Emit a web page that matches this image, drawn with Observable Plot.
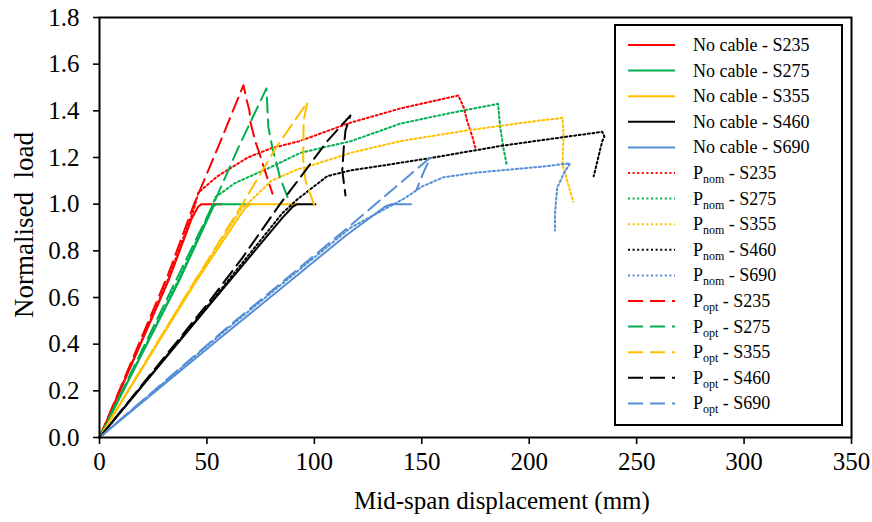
<!DOCTYPE html>
<html><head><meta charset="utf-8">
<script src="https://cdn.jsdelivr.net/npm/d3@7"></script>
<script src="https://cdn.jsdelivr.net/npm/@observablehq/plot@0.6"></script>
<style>
body{margin:0;background:#fff}
#chart{width:872px;height:522px}
#chart svg, #chart svg text{font-family:"Liberation Serif", "Times New Roman", serif !important;}
</style>
</head><body><div id="chart"></div>
<script>
// ---- data (displacement mm, normalised load) ----
const noCableS235 = [[0,0],[32,0.67],[43,0.94],[46,0.99],[47.5,1.0],[57,1.0]];
const noCableS275 = [[0,0],[37,0.67],[51,0.95],[53,0.99],[54.5,1.0],[70,1.0]];
const noCableS355 = [[0,0],[45,0.67],[66,0.96],[68.5,0.99],[70.5,1.0],[93,1.0]];
const noCableS460 = [[0,0],[50,0.555],[85,0.94],[90,0.99],[92,1.0],[100.5,1.0]];
const noCableS690 = [[0,0],[60,0.455],[115,0.868],[133,0.99],[136,1.0],[145,1.0]];

const pnomS235 = [[0,0],[32,0.68],[44,0.98],[46,1.05],[55,1.12],[69,1.2],[80,1.24],[93,1.27],[117,1.35],[140,1.41],[167,1.466],[169.5,1.415],[171,1.36],[173.5,1.29],[175,1.24]];
const pnomS275 = [[0,0],[37,0.68],[51,0.96],[54,1.03],[63,1.09],[80,1.16],[93.5,1.22],[117,1.27],[140,1.345],[163,1.39],[185.5,1.43],[186.5,1.33],[188,1.24],[189.5,1.17]];
const pnomS355 = [[0,0],[45,0.68],[66,0.98],[71,1.02],[80,1.1],[91,1.145],[100,1.17],[117,1.22],[140,1.27],[171,1.316],[202,1.355],[215.5,1.37],[216,1.30],[215.5,1.17],[218,1.09],[220.5,1.01]];
const pnomS460 = [[0,0],[50,0.56],[85,0.96],[92,1.02],[99,1.07],[106,1.12],[117,1.145],[135,1.17],[155.5,1.2],[187,1.25],[218,1.29],[234,1.31],[235,1.29],[234,1.27],[230,1.12]];
const pnomS690 = [[0,0],[60,0.47],[117,0.9],[135,0.99],[142,1.025],[150,1.075],[160,1.115],[175,1.135],[187,1.145],[205,1.16],[219,1.175],[216,1.13],[213,1.07],[212,0.96],[212,0.887]];

const poptS235 = [[0,0],[32,0.70],[44,1.0],[55,1.24],[67,1.51],[68.4,1.45],[69.8,1.4],[70.3,1.35],[72.5,1.27],[74,1.23],[78,1.115],[80.5,1.045]];
const poptS275 = [[0,0],[37,0.70],[53,1.0],[65,1.25],[77.7,1.496],[78.2,1.40],[78.6,1.33],[80.5,1.24],[84,1.115],[87.5,1.03]];
const poptS355 = [[0,0],[45,0.68],[66.5,1.0],[82,1.24],[96.8,1.437],[95,1.36],[94.8,1.19],[95.9,1.10],[100,0.994]];
const poptS460 = [[0,0],[50,0.57],[66.5,0.77],[84,1.0],[93.5,1.115],[106,1.27],[116.8,1.38],[114.5,1.316],[113.7,1.244],[113,1.145],[114.5,1.037]];
const poptS690 = [[0,0],[60,0.475],[117,0.91],[154,1.2],[150.5,1.13],[147.5,1.06]];

const grades = ["S235","S275","S355","S460","S690"];
const gradeColors = ["#ff0000","#00b050","#ffc000","#000000","#558ed5"];
const caseNames = ["No cable","Pnom","Popt"];
const caseDash = [null,"2,2.6","15,7"];
const caseData = [
  [noCableS235,noCableS275,noCableS355,noCableS460,noCableS690],
  [pnomS235,pnomS275,pnomS355,pnomS460,pnomS690],
  [poptS235,poptS275,poptS355,poptS460,poptS690]
];
const xTicks = [0,50,100,150,200,250,300,350];
const yTicks = [0,0.2,0.4,0.6,0.8,1.0,1.2,1.4,1.6,1.8];

// ---- build series ----
const series = [];
caseNames.forEach((c,ci)=>grades.forEach((g,gi)=>{
  series.push({caseName:c, grade:g, color:gradeColors[gi], dash:caseDash[ci],
    rows: caseData[ci][gi].map(([x,y])=>({x,y}))});
}));

const lineMarks = series.map(s=>Plot.line(s.rows,{x:"x",y:"y",stroke:s.color,strokeWidth:2,
  strokeDasharray:s.dash ?? undefined, strokeLinejoin:"round"}));

const font = '"Liberation Serif", "Times New Roman", serif';
const svgEl = Plot.plot({
  width:872, height:522,
  marginLeft:99, marginRight:21, marginTop:17, marginBottom:85,
  style:{fontFamily:font, fontSize:"25px", color:"black", background:"white", overflow:"visible"},
  x:{domain:[0,350]},
  y:{domain:[0,1.8]},
  marks:[
    ...lineMarks,
    Plot.frame({stroke:"black", strokeWidth:2}),
    Plot.axisX({ticks:xTicks, tickSize:7, tickPadding:8, strokeWidth:1.6, label:null, fontSize:25}),
    Plot.axisY({ticks:yTicks, tickSize:6, tickPadding:14, strokeWidth:1.6, label:null, fontSize:25, tickFormat:d3.format(".1f")})
  ]
});
document.getElementById("chart").appendChild(svgEl);

const svg = d3.select(svgEl);
svg.append("text").attr("x",502).attr("y",509).attr("text-anchor","middle")
  .style("font-family",font).attr("font-size",25).attr("fill","black").text("Mid-span displacement (mm)");
svg.append("text").attr("transform","translate(33,225) rotate(-90)").attr("text-anchor","middle")
  .style("font-family",font).attr("font-size",27).attr("fill","black").style("white-space","pre").text("Normalised  load");

// ---- legend (inside plot) ----
const lg = svg.append("g").attr("text-anchor","start");
lg.append("rect").attr("x",615).attr("y",25).attr("width",227).attr("height",400)
  .attr("fill","white").attr("stroke","black").attr("stroke-width",2);
series.forEach((s,i)=>{
  const y = 45 + i*25.6;
  lg.append("line").attr("x1",628).attr("x2",675).attr("y1",y).attr("y2",y)
    .attr("stroke",s.color).attr("stroke-width",2).attr("stroke-dasharray",s.dash);
  const t = lg.append("text").attr("x",693).attr("y",y+6).attr("text-anchor","start")
    .style("font-family",font).attr("font-size",18).attr("fill","black");
  if (s.caseName==="No cable") {
    t.text(`No cable - ${s.grade}`);
  } else {
    t.append("tspan").text("P");
    t.append("tspan").attr("font-size",12).attr("dy",4).text(s.caseName.slice(1));
    t.append("tspan").attr("dy",-4).text(` - ${s.grade}`);
  }
});
</script>
</body></html>
